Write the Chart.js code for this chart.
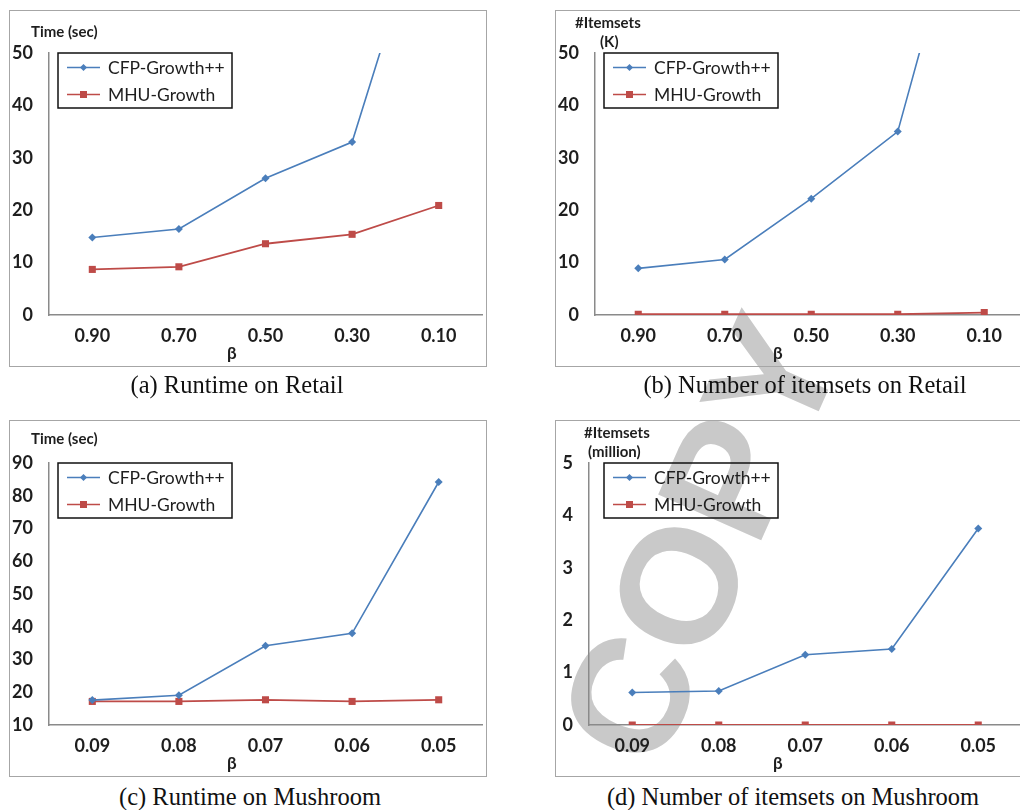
<!DOCTYPE html>
<html><head><meta charset="utf-8">
<script src="https://cdn.jsdelivr.net/npm/chart.js@4.4.1/dist/chart.umd.min.js"></script>
<style>
html,body{margin:0;padding:0;width:1020px;height:810px;overflow:hidden;background:#fff;position:relative;}
.wm{position:absolute;left:700px;top:540px;font-family:"Liberation Sans",Arial,sans-serif;font-weight:bold;font-size:164px;line-height:1;color:#c9c9c9;white-space:nowrap;transform:translate(-50%,-50%) rotate(-66deg);z-index:0;}
.frame{position:absolute;border:1.5px solid #a6a6a6;box-sizing:border-box;z-index:1;}
.cv{position:absolute;z-index:2;}
.lbl{position:absolute;font-family:Lato,"Open Sans",sans-serif;font-weight:700;color:#1e1e1e;white-space:nowrap;z-index:3;line-height:1;}
.cap{position:absolute;font-family:"Liberation Serif","Times New Roman",serif;font-size:24.5px;color:#111;white-space:nowrap;transform:translate(-50%,-50%);z-index:3;line-height:1;}
</style></head>
<body>
<div class="wm">COPY</div>

<div class="frame" style="left:9px;top:10px;width:478px;height:357px"></div>
<div class="frame" style="left:555px;top:10px;width:480px;height:357px"></div>
<div class="frame" style="left:9px;top:420px;width:478px;height:357px"></div>
<div class="frame" style="left:555px;top:420px;width:480px;height:357px"></div>

<canvas id="ca" class="cv" width="478" height="357" style="left:9px;top:10px;width:478px;height:357px"></canvas>
<canvas id="cb" class="cv" width="478" height="357" style="left:555px;top:10px;width:478px;height:357px"></canvas>
<canvas id="cc" class="cv" width="478" height="357" style="left:9px;top:420px;width:478px;height:357px"></canvas>
<canvas id="cd" class="cv" width="478" height="357" style="left:555px;top:420px;width:478px;height:357px"></canvas>

<div class="lbl" style="left:31px;top:23.5px;font-size:15px">Time (sec)</div>
<div class="lbl" style="left:575px;top:14.5px;font-size:15px">#Itemsets</div>
<div class="lbl" style="left:600px;top:33.5px;font-size:15px">(K)</div>
<div class="lbl" style="left:31px;top:430.5px;font-size:15px">Time (sec)</div>
<div class="lbl" style="left:584px;top:424.5px;font-size:15px">#Itemsets</div>
<div class="lbl" style="left:588px;top:443.5px;font-size:15px">(million)</div>

<div class="lbl" style="left:227px;top:344px;font-size:17px">β</div>
<div class="lbl" style="left:773px;top:344px;font-size:17px">β</div>
<div class="lbl" style="left:227px;top:754px;font-size:17px">β</div>
<div class="lbl" style="left:773px;top:754px;font-size:17px">β</div>

<div class="cap" style="left:237px;top:385px">(a) Runtime on Retail</div>
<div class="cap" style="left:805px;top:385px">(b) Number of itemsets on Retail</div>
<div class="cap" style="left:250px;top:797px">(c) Runtime on Mushroom</div>
<div class="cap" style="left:793px;top:797px">(d) Number of itemsets on Mushroom</div>

<script>
// ---- data ----
const seriesNames = ['CFP-Growth++', 'MHU-Growth'];
const betaRetail = ['0.90', '0.70', '0.50', '0.30', '0.10'];
const betaMushroom = ['0.09', '0.08', '0.07', '0.06', '0.05'];

const retailTimeCFP = [14.8, 16.4, 26.1, 33.0, 86];
const retailTimeMHU = [8.7, 9.2, 13.6, 15.4, 20.9];
const retailItemsCFP = [8.9, 10.6, 22.2, 35.0, 95];
const retailItemsMHU = [0.15, 0.15, 0.15, 0.15, 0.45];
const mushTimeCFP = [17.6, 19.1, 34.2, 38.0, 84.2];
const mushTimeMHU = [17.2, 17.2, 17.7, 17.2, 17.7];
const mushItemsCFP = [0.62, 0.65, 1.34, 1.45, 3.75];
const mushItemsMHU = [0, 0, 0, 0, 0];

const yTicksRetailTime = [0, 10, 20, 30, 40, 50];
const yTicksRetailItems = [0, 10, 20, 30, 40, 50];
const yTicksMushTime = [10, 20, 30, 40, 50, 60, 70, 80, 90];
const yTicksMushItems = [0, 1, 2, 3, 4, 5];

const BLUE = '#4a7ebb';
const RED = '#be4b48';

const boxLegend = {
  id: 'boxLegend',
  afterDraw(chart, args, opts) {
    const ctx = chart.ctx;
    const x = opts.x, y = opts.y, w = 174, h = 55;
    ctx.save();
    ctx.strokeStyle = '#111';
    ctx.lineWidth = 1.5;
    ctx.strokeRect(x, y, w, h);
    ctx.font = '17.5px Lato, "Open Sans", sans-serif';
    ctx.textBaseline = 'middle';
    ctx.textAlign = 'left';
    chart.data.datasets.forEach((ds, i) => {
      const yy = y + 14.5 + i * 27;
      ctx.strokeStyle = ds.borderColor;
      ctx.lineWidth = 1.6;
      ctx.beginPath();
      ctx.moveTo(x + 9, yy); ctx.lineTo(x + 42, yy);
      ctx.stroke();
      ctx.fillStyle = ds.borderColor;
      const cx = x + 25.5;
      if (ds.pointStyle === 'rectRot') {
        ctx.beginPath();
        ctx.moveTo(cx, yy - 3.5); ctx.lineTo(cx + 3.5, yy); ctx.lineTo(cx, yy + 3.5); ctx.lineTo(cx - 3.5, yy);
        ctx.closePath(); ctx.fill();
      } else {
        ctx.fillRect(cx - 3.5, yy - 3.5, 7, 7);
      }
      ctx.fillStyle = '#1e1e1e';
      ctx.fillText(ds.label, x + 50, yy + 1);
    });
    ctx.restore();
  }
};

function makeChart(id, labels, cfp, mhu, yTicks, areaLeft, rightPad) {
  const tickFont = { family: 'Lato, "Open Sans", sans-serif', size: 18, weight: 'bold' };
  new Chart(document.getElementById(id), {
    type: 'line',
    data: {
      labels: labels,
      datasets: [
        { label: seriesNames[0], data: cfp, borderColor: BLUE, backgroundColor: BLUE, borderWidth: 1.6,
          pointStyle: 'rectRot', pointRadius: 4, pointBorderWidth: 0, tension: 0, fill: false },
        { label: seriesNames[1], data: mhu, borderColor: RED, backgroundColor: RED, borderWidth: 1.8,
          pointStyle: 'rect', pointRadius: 5, pointBorderWidth: 0, tension: 0, fill: false }
      ]
    },
    options: {
      responsive: false,
      animation: false,
      events: [],
      layout: { padding: { left: 0, top: 43, right: rightPad, bottom: 0 } },
      plugins: { legend: { display: false }, tooltip: { enabled: false }, boxLegend: { x: 49, y: 43 } },
      scales: {
        x: {
          type: 'category',
          offset: true,
          grid: { display: false, drawTicks: false },
          border: { display: true, color: '#8a8a8a', width: 1.5 },
          ticks: { color: '#1e1e1e', font: tickFont, padding: 10, maxRotation: 0, autoSkip: false },
          afterFit: s => { s.height = 52; }
        },
        y: {
          min: yTicks[0],
          max: yTicks[yTicks.length - 1],
          grid: { display: false, drawTicks: false },
          border: { display: true, color: '#8a8a8a', width: 1.5 },
          ticks: { color: '#1e1e1e', font: tickFont, padding: 16 },
          afterBuildTicks: s => { s.ticks = yTicks.map(v => ({ value: v })); },
          afterFit: s => { s.width = areaLeft; }
        }
      }
    },
    plugins: [boxLegend]
  });
}

makeChart('ca', betaRetail, retailTimeCFP, retailTimeMHU, yTicksRetailTime, 40, 5);
makeChart('cb', betaRetail, retailItemsCFP, retailItemsMHU, yTicksRetailItems, 40, 5.5);
makeChart('cc', betaMushroom, mushTimeCFP, mushTimeMHU, yTicksMushTime, 40, 5);
makeChart('cd', betaMushroom, mushItemsCFP, mushItemsMHU, yTicksMushItems, 34, 11.5);
</script>
</body></html>
